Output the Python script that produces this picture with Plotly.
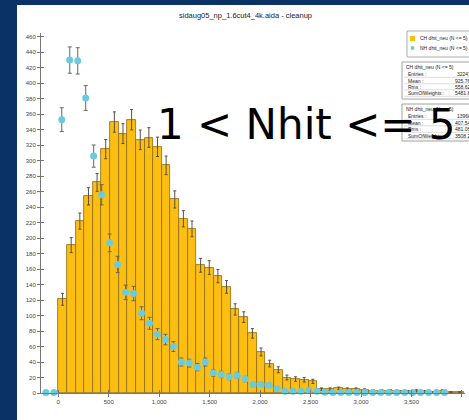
import numpy as np
import plotly.graph_objects as go

# ---- data -------------------------------------------------------------
# CH dhit_neu (N <= 5): counts per bin, bins start at 0
ch_bin_width = 85.5
ch_counts = [121, 191, 222, 254, 272, 315, 350, 335, 353, 327,
             330, 318, 294, 250, 225, 212, 165, 162, 151, 137,
             108, 98, 77, 53, 38, 30, 20, 18, 17, 15,
             5, 5, 6, 5, 5, 4, 3, 3, 3, 2,
             2, 3, 2, 1, 3, 1, 1]

# NH dhit_neu (N <= 5): bin centres and counts
nh_first_centre = -123
nh_bin_width = 79
nh_counts = [0.6, 0.6, 353, 430, 429, 381, 306, 256, 194, 166,
             130, 128.5, 103, 90, 76, 69, 60, 40, 38.6, 33.4,
             40, 26, 24, 21, 22.7, 18, 11, 11, 10, 5.8,
             2.4, 2.4, 2.4, 3.6, 2.4, 1, 0.6, 0.6, 0.6, 0.6,
             0.6, 0.6, 0.6, 0.6, 0.6, 0.6, 0.6, 0.6, 0.6, 0.6, 0.6]

x_ticks = [0, 500, 1000, 1500, 2000, 2500, 3000, 3500, 4000]
x_tick_text = ["0", "500", "1,000", "1,500", "2,000", "2,500", "3,000", "3,500", "4,000"]
y_ticks = list(range(0, 461, 20))

title_text = "sidaug05_np_1.6cut4_4k.aida - cleanup"
big_label = "1 < Nhit <= 5"
legend_labels = ["CH dhit_neu (N <= 5)", "NH dhit_neu (N <= 5)"]
ch_stats = [("Entries :", "32247"), ("Mean :", "925.76"),
            ("Rms :", "558.62"), ("SumOfWeights :", "5481.8")]
nh_stats = [("Entries :", "13968"), ("Mean :", "407.54"),
            ("Rms :", "481.06"), ("SumOfWeights :", "3508.2")]

# ---- derived arrays ----------------------------------------------------
ch_counts = np.array(ch_counts, dtype=float)
ch_centres = ch_bin_width * (np.arange(len(ch_counts)) + 0.5)
ch_err = 0.7 * np.sqrt(ch_counts)

nh_counts = np.array(nh_counts, dtype=float)
nh_centres = nh_first_centre + nh_bin_width * np.arange(len(nh_counts))
nh_err = 0.82 * np.sqrt(nh_counts)

# ---- geometry (pixels of the 469x420 page) -----------------------------
W, H = 469, 420
ML, MR, MT, MB = 41, 4, 33, 27
PW, PH = W - ML - MR, H - MT - MB


def px(x):
    return (x - ML) / PW


def py(y):
    return (H - MB - y) / PH


ORANGE = "#FDBE12"
CYAN = "#6CCADD"
NAVY = "#0A3266"
SMALL = dict(family="Liberation Sans, Arial, sans-serif", size=5, color="#222")

fig = go.Figure()

fig.add_trace(go.Bar(
    x=ch_centres, y=ch_counts, width=ch_bin_width,
    marker=dict(color=ORANGE, line=dict(color="#8C6A12", width=0.8)),
    error_y=dict(type="data", array=ch_err, color="#5a5040", thickness=1, width=1.5),
    showlegend=False,
))

fig.add_trace(go.Scatter(
    x=nh_centres, y=nh_counts, mode="markers",
    marker=dict(color=CYAN, size=7),
    error_y=dict(type="data", array=nh_err, color="#666", thickness=1, width=2),
    showlegend=False, cliponaxis=False,
))

shapes = []
annotations = []

# dark frame strips
shapes.append(dict(type="rect", xref="paper", yref="paper", x0=px(-5), x1=px(17),
                   y0=py(H + 5), y1=py(-5), fillcolor=NAVY, line=dict(width=0), layer="above"))
shapes.append(dict(type="rect", xref="paper", yref="paper", x0=px(-5), x1=px(W + 5),
                   y0=py(5), y1=py(-5), fillcolor=NAVY, line=dict(width=0), layer="above"))

# title
annotations.append(dict(text=title_text, xref="paper", yref="paper", x=px(245), y=py(16),
                        xanchor="center", yanchor="middle", showarrow=False,
                        font=dict(family="Liberation Sans, Arial, sans-serif", size=7.5, color="#222")))

# legend box
shapes.append(dict(type="rect", xref="paper", yref="paper", x0=px(407), x1=px(W + 10),
                   y0=py(57), y1=py(31), fillcolor="white", line=dict(color="#999", width=0.8),
                   layer="above"))
shapes.append(dict(type="rect", xref="paper", yref="paper", x0=px(410), x1=px(415),
                   y0=py(41), y1=py(36), fillcolor=ORANGE, line=dict(width=0), layer="above"))
shapes.append(dict(type="circle", xref="paper", yref="paper", x0=px(410.5), x1=px(414.5),
                   y0=py(50), y1=py(46), fillcolor=CYAN, line=dict(width=0), layer="above"))
for label, yy in zip(legend_labels, [38.5, 48]):
    annotations.append(dict(text=label, xref="paper", yref="paper", x=px(418), y=py(yy),
                            xanchor="left", yanchor="middle", showarrow=False, font=SMALL))


def stats_box(title, rows, top, bottom, row_ys):
    shapes.append(dict(type="rect", xref="paper", yref="paper", x0=px(402), x1=px(W + 10),
                       y0=py(bottom), y1=py(top), fillcolor="white",
                       line=dict(color="#888", width=0.8), layer="above"))
    annotations.append(dict(text=title, xref="paper", yref="paper", x=px(403.5), y=py(row_ys[0]),
                            xanchor="left", yanchor="middle", showarrow=False, font=SMALL))
    for (name, val), yy in zip(rows, row_ys[1:]):
        annotations.append(dict(text=name, xref="paper", yref="paper", x=px(406), y=py(yy),
                                xanchor="left", yanchor="middle", showarrow=False, font=SMALL))
        annotations.append(dict(text=val, xref="paper", yref="paper", x=px(473), y=py(yy),
                                xanchor="right", yanchor="middle", showarrow=False, font=SMALL))
        shapes.append(dict(type="line", xref="paper", yref="paper", x0=px(404), x1=px(W + 10),
                           y0=py(yy + 3.3), y1=py(yy + 3.3), line=dict(color="#bbb", width=0.5),
                           layer="above"))


stats_box("CH dhit_neu (N <= 5)", ch_stats, 62, 99, [67, 74, 80.5, 86.5, 93])
stats_box("NH dhit_neu (N <= 5)", nh_stats, 104, 141, [109, 116, 122.5, 129, 135.5])

# large overlay label
annotations.append(dict(text=big_label, xref="paper", yref="paper", x=px(306), y=py(124),
                        xanchor="center", yanchor="middle", showarrow=False,
                        font=dict(family="DejaVu Sans, Verdana, sans-serif", size=42, color="#000")))

axis_font = dict(family="Liberation Sans, Arial, sans-serif", size=6, color="#444")

fig.update_layout(
    width=W, height=H,
    margin=dict(l=ML, r=MR, t=MT, b=MB, pad=0),
    paper_bgcolor="white", plot_bgcolor="white",
    bargap=0,
    shapes=shapes, annotations=annotations,
    xaxis=dict(range=[-171, 4030], tickvals=x_ticks, ticktext=x_tick_text,
               showgrid=False, zeroline=False, showline=True, linecolor="#777", linewidth=1,
               ticks="outside", ticklen=3, tickcolor="#777", tickfont=axis_font),
    yaxis=dict(range=[0, 465], tickvals=y_ticks, showgrid=False, zeroline=False,
               showline=True, linecolor="#777", linewidth=1,
               ticks="outside", ticklen=3, tickcolor="#777", tickfont=axis_font),
    yaxis2=dict(range=[0, 465], tickvals=y_ticks, overlaying="y", side="left",
                showgrid=False, zeroline=False, showline=False, showticklabels=False,
                ticks="inside", ticklen=3, tickcolor="#777"),
    xaxis2=dict(range=[-171, 4030], tickvals=x_ticks, overlaying="x", side="bottom",
                showgrid=False, zeroline=False, showline=False, showticklabels=False,
                ticks="inside", ticklen=3, tickcolor="#777"),
)

# empty trace to bring the secondary (inside tick) axes into the figure
fig.add_trace(go.Scatter(x=[None], y=[None], xaxis="x2", yaxis="y2", showlegend=False))

fig.write_html("out.html")
